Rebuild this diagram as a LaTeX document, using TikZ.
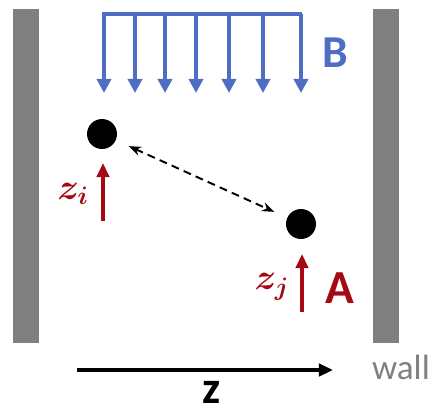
\documentclass[tikz,border=0pt]{standalone}
\usepackage{amsmath}
\usepackage{bm}
\usepackage{xcolor}
\usepackage{fontspec}
\setmainfont{Carlito}
\usetikzlibrary{arrows.meta, positioning}

\definecolor{fieldblue}{HTML}{4F6EC3}
\definecolor{darkred}{HTML}{A50A14}
\definecolor{wallgray}{HTML}{808080}

\begin{document}
\begin{tikzpicture}[
  x=0.02cm, y=-0.02cm,
  wallbox/.style={fill=wallgray, draw=none},
  particle/.style={circle, fill=black, inner sep=0pt, minimum size=0.6cm},
  fieldarrow/.style={-{Triangle[length=8pt, width=8pt]}, fieldblue, line width=2.3pt},
  spinarrow/.style={-{Triangle[length=8pt, width=7pt]}, darkred, line width=2.3pt},
  axisarrow/.style={-{Triangle[length=8pt, width=7pt]}, black, line width=2.3pt},
  coupling/.style={{Stealth[length=7pt]}-{Stealth[length=7pt]}, black,
                   dash pattern=on 4.5pt off 3pt, line width=1.1pt, shorten <=8pt, shorten >=8pt},
  bigsans/.style={font=\fontsize{26}{28}\selectfont\bfseries, inner sep=0pt},
  spinlabel/.style={text=darkred, font=\fontsize{20}{22}\selectfont, inner sep=0pt}
]
\useasboundingbox (0,0) rectangle (433,410);
% walls
\fill[wallbox] (13,9) rectangle (39,343);
\fill[wallbox] (373,9) rectangle (399,343);
\node[text=wallgray, font=\fontsize{20}{22}\selectfont, inner sep=0pt] (wall) at (401,367) {wall};
% field B
\draw[fieldblue, line width=2.3pt] (102,14) -- (302,14);
\foreach \x in {104,135,165,196,229,263,301}
  \draw[fieldarrow] (\x,14) -- (\x,93);
\node[bigsans, text=fieldblue] (B) at (335,53) {B};
% particles
\node[particle] (pi) at (102,134) {};
\node[particle] (pj) at (301,224) {};
\draw[coupling] (pi) -- (pj);
% spins
\coordinate (si) at (103,221);
\coordinate (sj) at (302,312);
\draw[spinarrow] (si) -- ++(0,-58);
\draw[spinarrow] (sj) -- ++(0,-58);
\node[spinlabel] (zi) at (73,194) {$\bm{z_i}$};
\node[spinlabel] (zj) at (272,287) {$\bm{z_j}$};
\node[bigsans, text=darkred, font=\fontsize{27}{29}\selectfont\bfseries] (A) at (340,288) {A};
% z axis
\coordinate (ax0) at (77,370);
\coordinate (ax1) at (333,370);
\draw[axisarrow] (ax0) -- (ax1);
\node[bigsans] (z) at (212,392) {z};
\end{tikzpicture}
\end{document}
